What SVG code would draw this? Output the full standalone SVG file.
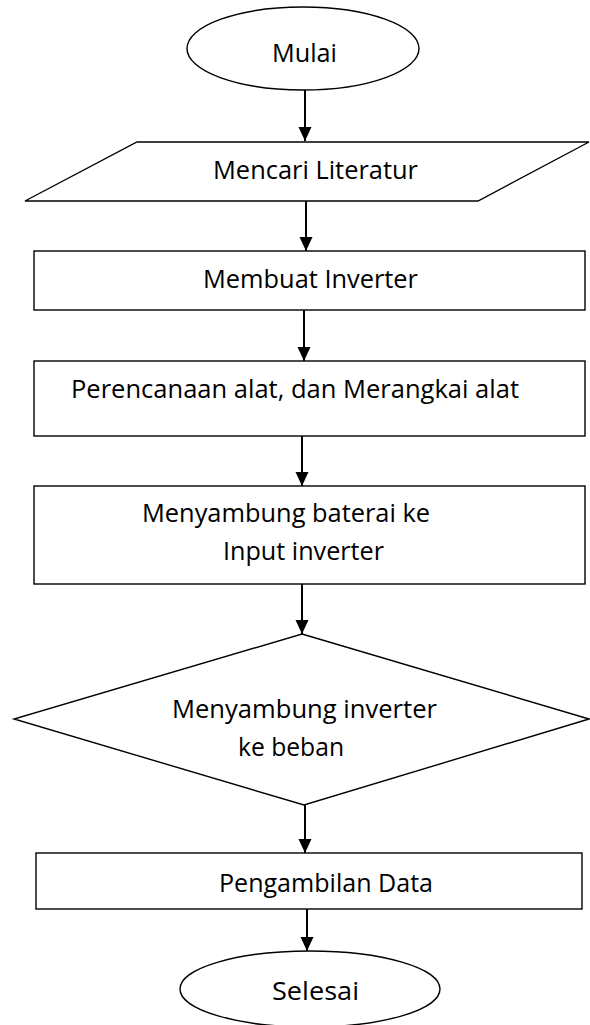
<svg xmlns="http://www.w3.org/2000/svg" width="590" height="1025" viewBox="0 0 590 1025">
<style>
.shape{fill:#fff;stroke:#000;stroke-width:1.4}
.conn{stroke:#000;stroke-width:2;fill:none}
.lbl{font-family:"Open Sans","Noto Sans","Liberation Sans",sans-serif;font-size:26px;fill:#000}
</style>
<defs>
<marker id="arr" markerUnits="userSpaceOnUse" markerWidth="16" markerHeight="16" viewBox="0 -8 16 16" refX="14" refY="0" orient="auto">
<path d="M0,-6.5 L14,0 L0,6.5 z" fill="#000"/>
</marker>
</defs>
<rect width="590" height="1025" fill="#fff"/>
<g id="connectors">
<line class="conn" x1="305" y1="90" x2="305" y2="141" marker-end="url(#arr)"/>
<line class="conn" x1="306" y1="201" x2="306" y2="251" marker-end="url(#arr)"/>
<line class="conn" x1="304" y1="310" x2="304" y2="361" marker-end="url(#arr)"/>
<line class="conn" x1="302" y1="436" x2="302" y2="486" marker-end="url(#arr)"/>
<line class="conn" x1="302" y1="584" x2="302" y2="634" marker-end="url(#arr)"/>
<line class="conn" x1="305" y1="805" x2="305" y2="853" marker-end="url(#arr)"/>
<line class="conn" x1="307" y1="909" x2="307" y2="951" marker-end="url(#arr)"/>
</g>
<g id="mulai">
<ellipse class="shape" cx="303" cy="48.5" rx="116" ry="41.5"/>
<text class="lbl" x="272" y="62" textLength="65" lengthAdjust="spacingAndGlyphs">Mulai</text>
</g>
<g id="mencari-literatur">
<polygon class="shape" points="137,142 589,142 478,201 25,201"/>
<text class="lbl" x="213" y="179" textLength="205" lengthAdjust="spacingAndGlyphs">Mencari Literatur</text>
</g>
<g id="membuat-inverter">
<rect class="shape" x="34" y="251" width="551" height="59"/>
<text class="lbl" x="203" y="288" textLength="215" lengthAdjust="spacingAndGlyphs">Membuat Inverter</text>
</g>
<g id="perencanaan">
<rect class="shape" x="34" y="361" width="551" height="75"/>
<text class="lbl" x="71" y="398" textLength="448" lengthAdjust="spacingAndGlyphs">Perencanaan alat, dan Merangkai alat</text>
</g>
<g id="menyambung-baterai">
<rect class="shape" x="34" y="486" width="551" height="98"/>
<text class="lbl" x="142" y="522" textLength="288" lengthAdjust="spacingAndGlyphs">Menyambung baterai ke</text>
<text class="lbl" x="223" y="560" textLength="161" lengthAdjust="spacingAndGlyphs">Input inverter</text>
</g>
<g id="menyambung-beban">
<polygon class="shape" points="302,634 589,719 304,805 14,719"/>
<text class="lbl" x="172" y="718" textLength="265" lengthAdjust="spacingAndGlyphs">Menyambung inverter</text>
<text class="lbl" x="238" y="756" textLength="106" lengthAdjust="spacingAndGlyphs">ke beban</text>
</g>
<g id="pengambilan-data">
<rect class="shape" x="36" y="853" width="546" height="56"/>
<text class="lbl" x="219" y="892" textLength="214" lengthAdjust="spacingAndGlyphs">Pengambilan Data</text>
</g>
<g id="selesai">
<ellipse class="shape" cx="310" cy="989" rx="130" ry="38"/>
<text class="lbl" x="272" y="1000" textLength="87" lengthAdjust="spacingAndGlyphs">Selesai</text>
</g>
</svg>
